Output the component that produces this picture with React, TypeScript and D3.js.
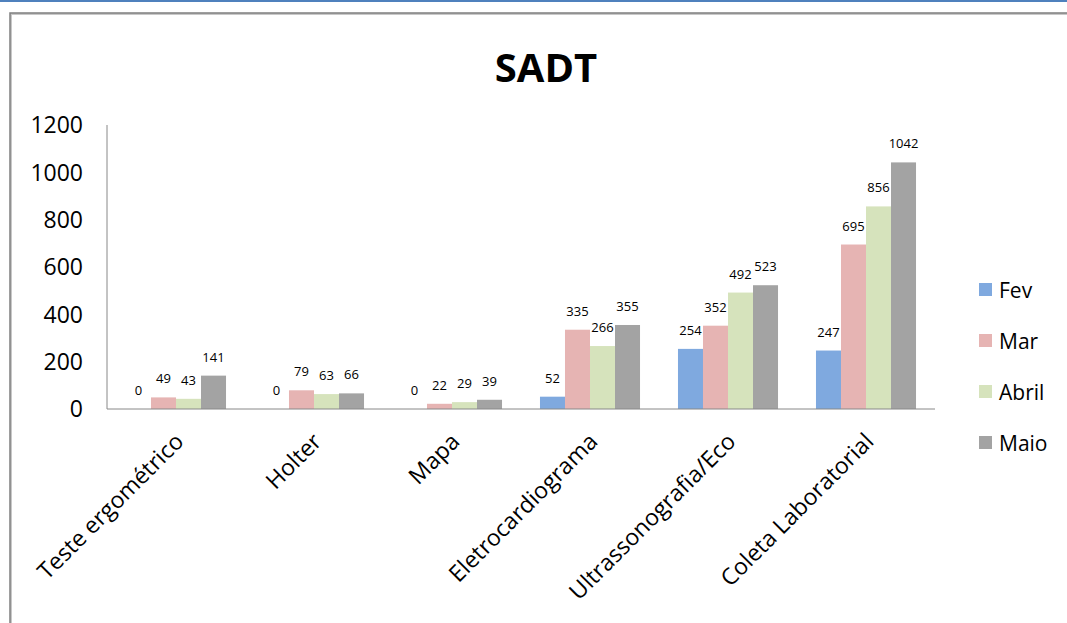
import React from "react";
import * as d3 from "d3";

const categories = ["Teste ergométrico", "Holter", "Mapa", "Eletrocardiograma", "Ultrassonografia/Eco", "Coleta Laboratorial"];
const seriesNames = ["Fev", "Mar", "Abril", "Maio"];
const fev = [0, 0, 0, 52, 254, 247];
const mar = [49, 79, 22, 335, 352, 695];
const abril = [43, 63, 29, 266, 492, 856];
const maio = [141, 66, 39, 355, 523, 1042];
const yTicks = [0, 200, 400, 600, 800, 1000, 1200];
const colors = ["#7fa9df", "#e6b4b3", "#d6e3bc", "#a3a3a3"];

const seriesValues = [fev, mar, abril, maio];

export default function App() {
  const W = 1067, H = 623;
  const left = 107, right = 935, top = 125, bottom = 409;
  const font = "'Open Sans', 'Noto Sans', sans-serif";
  const y = d3.scaleLinear().domain([0, 1200]).range([bottom, top]);
  const x0 = d3.scaleBand<string>().domain(categories).range([left, right]).paddingInner(0.275).paddingOuter(0.1375);
  const x1 = d3.scaleBand<string>().domain(seriesNames).range([0, x0.bandwidth()]);
  const legendY = [290, 341, 392, 443];

  return (
    <svg width={W} height={H} style={{ position: "absolute", left: 0, top: 0 }}>
      <rect x={0} y={0} width={W} height={H} fill="#fff" />
      <rect x={0} y={0} width={W} height={2} fill="#4f81bd" />
      <rect x={11} y={14} width={W + 20} height={H + 20} fill="none" stroke="#c8c8c8" strokeWidth={2} />
      <rect x={10} y={13} width={W + 20} height={H + 20} fill="none" stroke="#7f7f7f" strokeWidth={1.5} />
      <text x={546} y={82} textAnchor="middle" fontFamily={font} fontWeight="bold" fontSize={40} fill="#000">SADT</text>
      {yTicks.map((t) => (
        <text key={t} x={83} y={y(t)} dy="0.36em" textAnchor="end" fontFamily={font} fontSize={23} fill="#000">{t}</text>
      ))}
      {seriesValues.map((vals, si) =>
        vals.map((v, ci) => {
          const bx = (x0(categories[ci]) as number) + (x1(seriesNames[si]) as number);
          return (
            <g key={`${si}-${ci}`}>
              <rect x={bx} y={y(v)} width={x1.bandwidth()} height={bottom - y(v)} fill={colors[si]} />
              <text x={bx + x1.bandwidth() / 2} y={y(v) - 14} textAnchor="middle" fontFamily={font} fontSize={13} fill="#000">{v}</text>
            </g>
          );
        })
      )}
      <line x1={left} x2={left} y1={top} y2={bottom} stroke="#888" strokeWidth={1} />
      <line x1={left} x2={right} y1={bottom} y2={bottom} stroke="#888" strokeWidth={1} />
      {categories.map((c) => {
        const cx = (x0(c) as number) + x0.bandwidth() / 2 + 9;
        return (
          <text key={c} transform={`translate(${cx},${bottom + 34}) rotate(-45)`} textAnchor="end" fontFamily={font} fontSize={23} fill="#000">{c}</text>
        );
      })}
      {seriesNames.map((s, i) => (
        <g key={s}>
          <rect x={979} y={legendY[i] - 7} width={13} height={13} fill={colors[i]} />
          <text x={999} y={legendY[i]} dy="0.36em" fontFamily={font} fontSize={21} fill="#000">{s}</text>
        </g>
      ))}
    </svg>
  );
}
